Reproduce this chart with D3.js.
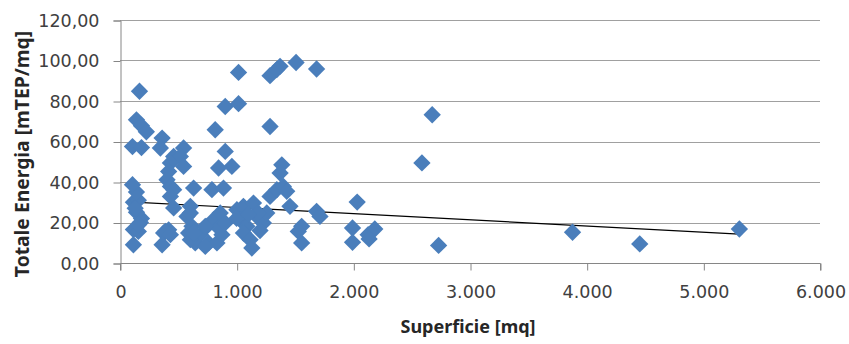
<!DOCTYPE html>
<html>
<head>
<meta charset="utf-8">
<script src="https://cdn.jsdelivr.net/npm/d3@7"></script>
<style>
  body { margin: 0; background: #fff; }
</style>
</head>
<body>
<svg id="chart" width="849" height="344"></svg>
<script>
// superficie [mq]
const superficie = [
  115, 115, 157, 184, 141, 115, 157, 141, 107, 175, 107, 184, 141, 184, 226, 167, 130, 160,
  361, 346, 545, 460, 517, 545, 432, 417, 403, 432, 460, 432, 460, 631, 603, 788, 887, 816,
  902, 959, 845, 617, 588, 374, 417, 361, 645, 688, 745, 802, 845, 759, 831, 874, 859, 902,
  574, 389, 432, 603, 631, 731, 603, 731,
  1002, 1058, 1030, 1087, 1058, 1115, 1130, 1144, 1173, 1229, 1258, 1286, 1344, 1387, 1372,
  1400, 1429, 1457, 1286, 1557, 1528, 1557, 1685, 1714, 1016, 902, 1016, 1286, 1372, 1344,
  1509, 1685, 1184, 1000, 1200, 1100,
  2033, 1993, 1993, 2127, 2184, 2135, 2676, 2588, 2731, 3879, 4455, 5309
];
// totale energia [mTEP/mq]
const energia = [
  9, 16.5, 15.6, 22, 25, 30, 31, 35, 38.7, 20, 57.5, 57, 70.7, 67.8, 64.8, 84.8, 27, 19,
  61.7, 56.8, 56.8, 52.6, 52.6, 47.7, 49.4, 45.2, 41.1, 37.8, 36.2, 32.9, 27.2, 37, 28, 36.2, 37, 65.8,
  55.1, 47.7, 46.9, 18.1, 14.8, 14.8, 16.4, 9, 9.9, 14, 18.1, 21.4, 17.3, 9.9, 9.9, 14, 24.7, 19.8,
  23, 15.6, 14, 11.5, 14.8, 18.1, 24.7, 8.2,
  26.3, 28, 21.4, 18.1, 14.8, 11.5, 7.4, 29.6, 23, 19.8, 24.7, 32.9, 36.2, 48.5, 44.4,
  37.8, 35.4, 28, 67.4, 18.1, 15.6, 9.9, 25.5, 23, 94.1, 77.3, 78.7, 92.5, 97.1, 95.5,
  99, 95.8, 24.7, 22, 16, 24,
  30.1, 17.3, 10.2, 14, 16.8, 11.9, 73.2, 49.4, 8.7, 15.2, 9.4, 16.8
];
// linea di tendenza (lineare)
const trendX = [115, 5309];
const trendY = [30.1, 14.3];

const xTicks = [0, 1000, 2000, 3000, 4000, 5000, 6000];
const yTicks = [0, 20, 40, 60, 80, 100, 120];

const points = superficie.map((d, i) => ({ x: d, y: energia[i] }));

const svg = d3.select("#chart");
const margin = { top: 20, right: 29, bottom: 81, left: 120 };
const width = 849, height = 344;

const xScale = d3.scaleLinear().domain([0, 6000]).range([margin.left, width - margin.right]);
const yScale = d3.scaleLinear().domain([0, 120]).range([height - margin.bottom, margin.top]);

const itLocale = d3.formatLocale({ decimal: ",", thousands: ".", grouping: [3], currency: ["€", ""] });
const yFmt = itLocale.format(",.2f");
const xFmt = itLocale.format(",.0f");

const tickFont = "DejaVu Sans, sans-serif";

// gridlines
svg.append("g")
  .selectAll("line")
  .data(yTicks.filter(d => d > 0))
  .join("line")
  .attr("x1", xScale(0))
  .attr("x2", xScale(6000))
  .attr("y1", d => Math.round(yScale(d)) + 0.5)
  .attr("y2", d => Math.round(yScale(d)) + 0.5)
  .attr("stroke", "#a0a0a0")
  .attr("stroke-width", 1);

// y axis
const yAxis = svg.append("g")
  .attr("transform", `translate(${xScale(0) + 0.5}, 0.5)`)
  .call(d3.axisLeft(yScale).tickValues(yTicks).tickFormat(yFmt).tickSize(7).tickPadding(14));
yAxis.selectAll("path, line").attr("stroke", "#868686");
yAxis.attr("font-family", tickFont).attr("font-size", 17.5);
yAxis.selectAll("text").attr("fill", "#404040");

// x axis
const xAxis = svg.append("g")
  .attr("transform", `translate(0.5, ${Math.round(yScale(0)) + 0.5})`)
  .call(d3.axisBottom(xScale).tickValues(xTicks).tickFormat(xFmt).tickSize(7).tickPadding(15));
xAxis.selectAll("path, line").attr("stroke", "#868686");
xAxis.select(".domain").attr("d", `M${xScale(0)},7V0H${xScale(6000)}V7`);
xAxis.attr("font-family", tickFont).attr("font-size", 17.5);
xAxis.selectAll("text").attr("fill", "#404040");

// trend line
svg.append("line")
  .attr("x1", xScale(trendX[0]))
  .attr("y1", yScale(trendY[0]))
  .attr("x2", xScale(trendX[1]))
  .attr("y2", yScale(trendY[1]))
  .attr("stroke", "#000")
  .attr("stroke-width", 1.2);

// points
svg.append("g")
  .selectAll("path")
  .data(points)
  .join("path")
  .attr("d", d3.symbol(d3.symbolSquare, 150))
  .attr("transform", d => `translate(${xScale(d.x)}, ${yScale(d.y)}) rotate(45)`)
  .attr("fill", "#4a7ebb");

// axis titles
svg.append("text")
  .attr("x", 468)
  .attr("y", 333)
  .attr("text-anchor", "middle")
  .attr("font-family", "Noto Sans, sans-serif")
  .attr("font-size", 18)
  .attr("font-weight", "bold")
  .attr("fill", "#262626")
  .text("Superficie [mq]");

svg.append("text")
  .attr("transform", "translate(29, 154) rotate(-90)")
  .attr("text-anchor", "middle")
  .attr("font-family", "Noto Sans, sans-serif")
  .attr("font-size", 19.3)
  .attr("font-weight", "bold")
  .attr("fill", "#262626")
  .text("Totale Energia [mTEP/mq]");
</script>
</body>
</html>
